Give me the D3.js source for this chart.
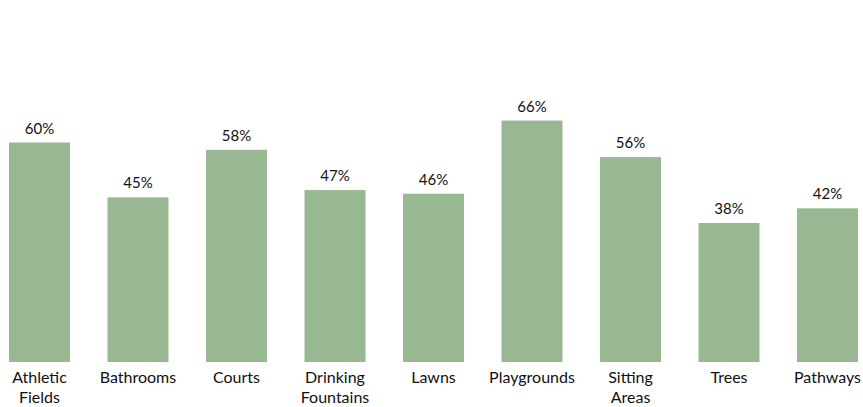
<!DOCTYPE html>
<html>
<head>
<meta charset="utf-8">
<script src="https://cdn.jsdelivr.net/npm/d3@7"></script>
<style>
  body { margin: 0; background: #fff; }
  svg text { font-family: "Lato", "Noto Sans", sans-serif; fill: #111; }
</style>
</head>
<body>
<svg width="863" height="407"></svg>
<script>
  var categories = [
    ["Athletic", "Fields"],
    ["Bathrooms"],
    ["Courts"],
    ["Drinking", "Fountains"],
    ["Lawns"],
    ["Playgrounds"],
    ["Sitting", "Areas"],
    ["Trees"],
    ["Pathways"]
  ];
  var values = [60, 45, 58, 47, 46, 66, 56, 38, 42];

  var svg = d3.select("svg");
  var baseline = 362;

  var x = d3
    .scaleBand()
    .domain(d3.range(values.length))
    .range([9, 858])
    .paddingInner(0.381)
    .paddingOuter(0);

  var y = d3.scaleLinear().domain([0, 60]).range([baseline, 142.5]);

  var bars = svg.append("g").attr("class", "bars");

  bars
    .selectAll("rect")
    .data(values)
    .enter()
    .append("rect")
    .attr("x", function (d, i) {
      return x(i);
    })
    .attr("y", function (d) {
      return y(d);
    })
    .attr("width", x.bandwidth())
    .attr("height", function (d) {
      return baseline - y(d);
    })
    .style("fill", "#97b891");

  svg
    .append("g")
    .attr("class", "values")
    .selectAll("text")
    .data(values)
    .enter()
    .append("text")
    .attr("x", function (d, i) {
      return x(i) + x.bandwidth() / 2;
    })
    .attr("y", function (d) {
      return y(d) - 9;
    })
    .attr("text-anchor", "middle")
    .style("font-size", "15px")
    .text(function (d) {
      return d + "%";
    });

  var labels = svg
    .append("g")
    .attr("class", "labels")
    .selectAll("text")
    .data(categories)
    .enter()
    .append("text")
    .attr("text-anchor", "middle")
    .style("font-size", "16px");

  labels
    .selectAll("tspan")
    .data(function (d, i) {
      return d.map(function (line) {
        return { line: line, i: i };
      });
    })
    .enter()
    .append("tspan")
    .attr("x", function (d) {
      return x(d.i) + x.bandwidth() / 2;
    })
    .attr("y", function (d, j) {
      return 383 + j * 20;
    })
    .text(function (d) {
      return d.line;
    });
</script>
</body>
</html>
